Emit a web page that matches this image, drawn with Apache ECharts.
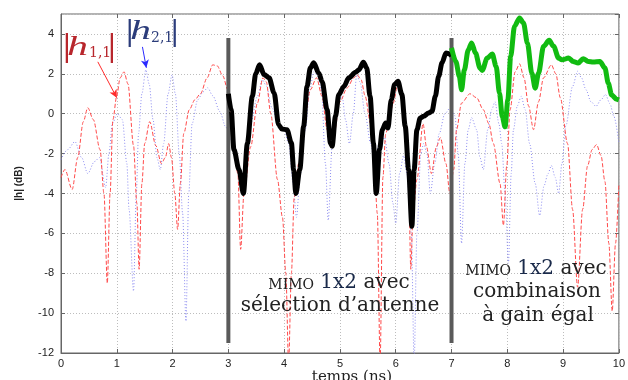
<!DOCTYPE html>
<html>
<head>
<meta charset="utf-8">
<script src="https://cdn.jsdelivr.net/npm/echarts@6/dist/echarts.min.js"></script>
<style>
html,body{margin:0;padding:0;background:#fff;}
#chart{width:628px;height:380px;}
</style>
</head>
<body>
<div id="chart"></div>
<script>
// x ticks / y ticks
const xTicks = [0,1,2,3,4,5,6,7,8,9,10];
const yTicks = [-12,-10,-8,-6,-4,-2,0,2,4];

// |h1,1| (red dashed)
const h11 = [
 [0,-3.2],[0.07,-2.8],[0.2,-3.8],[0.3,-2.2],[0.4,-0.4],[0.48,0.3],[0.58,-0.3],[0.7,-1.8],[0.77,-4],[0.83,-8.5],
 [0.88,-4],[0.93,-0.3],[1.0,0.9],[1.06,1.8],[1.13,2.1],[1.2,1.5],[1.3,-1.6],[1.36,-4.5],[1.4,-7.8],[1.45,-3.5],
 [1.5,-1.5],[1.59,-0.4],[1.7,-1.6],[1.8,-2.5],[1.87,-2.2],[1.93,-1.5],[1.98,-2.2],[2.04,-4],[2.09,-5.8],[2.14,-3.5],
 [2.2,-1],[2.3,0.2],[2.4,0.7],[2.5,1.0],[2.62,1.8],[2.72,2.45],[2.8,2.4],[2.9,1.9],[2.99,1.2],[3.08,-1.3],
 [3.17,-3.0],[3.22,-6.8],[3.28,-4],[3.4,-1.66],[3.52,0.53],[3.62,1.8],[3.68,1.6],[3.76,0],[3.88,-3.3],[3.97,-5.2],
 [4.03,-8],[4.08,-12.5],[4.13,-8],[4.18,-4.2],[4.26,-2.5],[4.38,0],[4.47,1.2],[4.58,1.8],[4.68,0.87],[4.77,-0.8],
 [4.83,-1.6],[4.9,-0.9],[5.0,0.6],[5.13,1.3],[5.25,1.8],[5.31,1.95],[5.38,1.7],[5.45,0.9],[5.55,-0.5],[5.62,-3],
 [5.67,-5],[5.72,-12.5],[5.77,-3.2],[5.82,-1],[5.87,-0.6],[5.95,0.5],[6.04,1.5],[6.12,0.9],[6.18,-0.6],[6.23,-3],
 [6.27,-7.8],[6.31,-5],[6.38,-3.3],[6.49,-0.5],[6.55,-1.65],[6.64,-3.0],[6.73,-1.65],[6.8,-1.2],[6.9,-2.5],[6.97,-4.0],
 [7.04,-2.8],[7.09,-0.8],[7.18,0.53],[7.33,1.0],[7.45,0.8],[7.57,0.2],[7.67,-0.5],[7.75,-1.5],[7.87,-3.5],[7.93,-5.6],
 [7.99,-2.6],[8.05,0.2],[8.14,2.1],[8.22,2.5],[8.3,1.8],[8.38,0.4],[8.47,-0.8],[8.56,0.6],[8.65,1.8],[8.79,2.45],
 [8.87,2.0],[8.95,0.8],[9.08,-1.5],[9.17,-4.8],[9.26,-8.7],[9.35,-4.8],[9.44,-2.6],[9.52,-1.8],[9.6,-1.55],[9.68,-2.1],
 [9.75,-3.4],[9.82,-6.5],[9.88,-9.9],[9.94,-6.5],[10,-3.5]
];

// |h2,1| (blue dotted)
const h21 = [
 [0,-2.3],[0.12,-1.8],[0.25,-1.4],[0.37,-2.2],[0.48,-3.0],[0.6,-2.4],[0.69,-2.2],[0.8,-3.7],[0.86,-2],[0.92,-0.5],
 [1.01,0.0],[1.1,-0.3],[1.18,-2.5],[1.22,-4.8],[1.3,-8.9],[1.35,-4],[1.39,-1],[1.45,1.0],[1.52,2.2],[1.58,1.5],
 [1.65,-0.3],[1.72,-2.2],[1.78,-2.8],[1.84,-1.5],[1.92,1.0],[1.99,1.95],[2.05,1.0],[2.12,-2],[2.18,-5],[2.24,-10.4],
 [2.29,-4],[2.35,-0.5],[2.45,0.7],[2.55,1.1],[2.63,1.3],[2.72,0.9],[2.85,0.1],[2.95,-0.65],[3.05,-1.3],[3.15,-2.4],
 [3.25,-4.0],[3.32,-2.6],[3.4,-0.5],[3.52,0.87],[3.61,1.7],[3.68,1.4],[3.78,0.3],[3.9,-0.6],[4.0,-0.8],[4.08,-1.5],
 [4.16,-3.5],[4.22,-5.2],[4.29,-3],[4.38,-0.8],[4.46,1.2],[4.53,2.1],[4.6,1.9],[4.67,1.2],[4.74,-2.5],[4.79,-5.35],
 [4.86,-1.66],[4.95,0.5],[5.04,0.87],[5.1,-0.3],[5.17,-1.5],[5.24,0],[5.3,1.95],[5.36,1.6],[5.45,0],[5.55,-1.5],
 [5.62,-2.5],[5.7,-1.5],[5.8,-1.2],[5.88,-2.5],[5.95,-4.5],[6.0,-5.5],[6.07,-3],[6.14,-2.1],[6.2,-3],[6.28,-6],
 [6.33,-12.5],[6.38,-6],[6.45,-2],[6.5,-1.5],[6.56,-2],[6.62,-4],[6.7,-2.5],[6.78,-1],[6.88,0],[6.98,0.3],
 [7.06,-0.1],[7.12,-2],[7.18,-6.5],[7.24,-2.5],[7.3,-0.8],[7.36,-0.2],[7.45,-0.8],[7.51,-2.2],[7.57,-2.8],[7.65,-0.8],
 [7.72,0.2],[7.78,0.6],[7.85,-0.5],[7.9,-1.5],[7.96,-4],[8.02,-7.5],[8.07,-3],[8.11,-0.8],[8.18,0.4],[8.25,0.87],
 [8.32,0.2],[8.4,-1.5],[8.5,-3.5],[8.58,-5.1],[8.66,-3.6],[8.73,-3.0],[8.79,-2.6],[8.86,-3.2],[8.92,-4.0],[8.98,-2.5],
 [9.05,-0.6],[9.17,1.37],[9.26,2.13],[9.33,1.8],[9.41,1.2],[9.5,0.6],[9.59,0.37],[9.68,0.7],[9.76,0.96],[9.84,0.5],
 [9.91,-0.13],[10,-1.47]
];

// antenna selection (black, 3..7 ns)
const selection = [
 [3.0,1.0],[3.05,0.2],[3.1,-1.8],[3.19,-2.8],[3.27,-4.0],[3.34,-1.5],[3.43,0.87],[3.49,2.0],[3.56,2.46],[3.64,1.96],
 [3.73,1.8],[3.82,1.04],[3.9,-0.55],[3.96,-0.77],[4.05,-0.8],[4.13,-1.47],[4.17,-2.8],[4.21,-4.0],[4.28,-2.8],[4.35,-0.63],
 [4.41,1.37],[4.47,2.3],[4.53,2.55],[4.62,2.04],[4.68,1.62],[4.77,0.2],[4.83,-1.47],[4.86,-1.63],[4.92,-0.13],[4.98,0.96],
 [5.07,1.37],[5.16,1.8],[5.28,2.08],[5.34,2.2],[5.42,2.58],[5.48,2.3],[5.54,0.87],[5.6,-1.47],[5.65,-4.0],[5.71,-1.8],
 [5.76,-0.8],[5.82,-0.47],[5.86,-0.72],[5.92,0.7],[5.98,1.46],[6.04,1.63],[6.11,0.96],[6.17,-0.63],[6.23,-2.8],[6.29,-5.65],
 [6.33,-2.8],[6.38,-0.8],[6.44,-0.21],[6.5,-0.13],[6.59,0.04],[6.65,0.12],[6.71,0.87],[6.77,1.88],[6.83,2.55],[6.9,3.05],
 [6.96,3.0],[7.0,2.9]
];

// equal gain combining (green, 7..10 ns)
const combining = [
 [7.0,3.3],[7.08,2.6],[7.14,1.87],[7.18,1.2],[7.23,2.2],[7.3,3.2],[7.36,3.55],[7.43,3.04],[7.51,2.29],[7.55,2.17],
 [7.64,2.79],[7.73,2.99],[7.8,2.37],[7.86,1.03],[7.91,-0.15],[7.96,-0.66],[8.01,0.69],[8.06,2.87],[8.13,4.39],[8.22,4.8],
 [8.29,4.55],[8.36,3.55],[8.44,2.03],[8.5,1.28],[8.56,2.03],[8.65,3.38],[8.75,3.68],[8.83,3.38],[8.92,2.79],[8.98,2.7],
 [9.1,2.79],[9.18,2.62],[9.27,2.54],[9.36,2.76],[9.45,2.62],[9.54,2.59],[9.66,2.62],[9.75,2.29],[9.81,1.53],[9.87,0.94],
 [9.96,0.72],[10,0.69]
];

// vertical separators
const dividerX = [3, 7];
const dividerY = [-11.5, 3.8];

// arrows: [from, to]
const arrowH11 = [[0.66, 2.6], [1.0, 0.8]];
const arrowH21 = [[1.46, 3.35], [1.53, 2.3]];

const chart = echarts.init(document.getElementById('chart'), null, {renderer: 'canvas'});
const serif = '"DejaVu Serif", "Liberation Serif", serif';
const lserif = '"Liberation Serif", serif';
const sans = '"Liberation Sans", Arial, sans-serif';

const dividerSeries = dividerX.map(x => ({
  type: 'line', data: [[x, dividerY[0]], [x, dividerY[1]]], showSymbol: false, silent: true,
  lineStyle: {color: '#5a5a5a', width: 4}, z: 4
}));

function arrowSeries(a, color) {
  return {
    type: 'line', data: [], silent: true,
    markLine: {
      silent: true, symbol: ['none', 'arrow'], symbolSize: [6, 8],
      lineStyle: {color: color, width: 1, type: 'solid'}, label: {show: false},
      data: [[{coord: a[0]}, {coord: a[1]}]]
    }
  };
}

function txt(x, y, text, font, fill, align, valign, rich, scaleX) {
  const style = {text: text, font: font, fill: fill,
    textAlign: align, align: align, textVerticalAlign: valign, verticalAlign: valign};
  if (rich) style.rich = rich;
  const el = {type: 'text', x: x, y: y, z: 100, style: style};
  if (scaleX) el.scaleX = scaleX;
  return el;
}

const mimoRich = {
  sc: {fontSize: 14, fontFamily: serif, fill: '#222', color: '#222', verticalAlign: 'bottom', padding: [0, 0, 1, 0]},
  b: {fontSize: 20, fontFamily: serif, fill: '#1a2a4a', color: '#1a2a4a', verticalAlign: 'bottom'},
  t: {fontSize: 20, fontFamily: serif, fill: '#222', color: '#222', verticalAlign: 'bottom'}
};

const redLbl = '#b8262c', blueLbl = '#2b3c7a';

const option = {
  animation: false,
  grid: {left: 61, right: 6, top: 14, bottom: 27, show: true, borderColor: '#666', borderWidth: 1},
  xAxis: [{
    type: 'value', min: xTicks[0], max: xTicks[xTicks.length - 1], interval: 1,
    axisLine: {show: true, onZero: false, lineStyle: {color: '#666'}},
    axisTick: {show: true, inside: true, length: 4, lineStyle: {color: '#666'}},
    axisLabel: {color: '#222', fontFamily: sans, fontSize: 11, margin: 5},
    splitLine: {show: true, lineStyle: {color: '#bdbdbd', type: [1, 2], width: 1}}
  }, {
    type: 'value', position: 'top', min: xTicks[0], max: xTicks[xTicks.length - 1], interval: 1,
    axisLine: {show: false, onZero: false}, axisTick: {show: true, inside: true, length: 4, lineStyle: {color: '#666'}},
    axisLabel: {show: false}, splitLine: {show: false}
  }],
  yAxis: [{
    type: 'value', min: yTicks[0], max: 5, interval: 2,
    name: '|h| (dB)', nameLocation: 'middle', nameGap: 37,
    nameTextStyle: {color: '#222', fontFamily: sans, fontSize: 10, fontWeight: 'bold'},
    axisLine: {show: true, onZero: false, lineStyle: {color: '#666'}},
    axisTick: {show: true, inside: true, length: 4, lineStyle: {color: '#666'}},
    axisLabel: {color: '#222', fontFamily: sans, fontSize: 11, margin: 7, showMaxLabel: false},
    splitLine: {show: true, lineStyle: {color: '#bdbdbd', type: [1, 2], width: 1}}
  }, {
    type: 'value', position: 'right', min: yTicks[0], max: 5, interval: 2,
    axisLine: {show: false, onZero: false}, axisTick: {show: true, inside: true, length: 4, lineStyle: {color: '#666'}},
    axisLabel: {show: false}, splitLine: {show: false}
  }],
  series: [
    {type: 'line', data: h21, showSymbol: false, smooth: 0.3, smoothMonotone: 'x', z: 2,
     lineStyle: {color: '#8c8cf0', width: 1, type: [1, 2]}},
    {type: 'line', data: h11, showSymbol: false, smooth: 0.3, smoothMonotone: 'x', z: 3,
     lineStyle: {color: '#ff4a4a', width: 1, type: [4, 2]}},
    {type: 'line', data: selection, showSymbol: false, smooth: 0.3, smoothMonotone: 'x', z: 5,
     lineStyle: {color: '#000', width: 5}},
    {type: 'line', data: combining, showSymbol: false, smooth: 0.3, smoothMonotone: 'x', z: 5,
     lineStyle: {color: '#11bb11', width: 5}},
    ...dividerSeries,
    arrowSeries(arrowH11, '#ff2a2a'),
    arrowSeries(arrowH21, '#2a2aff')
  ],
  graphic: [
    // |h1,1|
    txt(62, 34, '|', '29px ' + serif, redLbl, 'left', 'top'),
    txt(67, 34, 'h', 'italic 28px ' + lserif, redLbl, 'left', 'top', null, 1.5),
    txt(89, 46, '1,1', '14px ' + serif, redLbl, 'left', 'top'),
    txt(107, 34, '|', '29px ' + serif, redLbl, 'left', 'top'),
    // |h2,1|
    txt(125, 19, '|', '28px ' + serif, blueLbl, 'left', 'top'),
    txt(130, 18, 'h', 'italic 28px ' + lserif, blueLbl, 'left', 'top', null, 1.5),
    txt(151, 31, '2,1', '14px ' + serif, blueLbl, 'left', 'top'),
    txt(170, 19, '|', '28px ' + serif, blueLbl, 'left', 'top'),
    // annotation 1
    txt(339, 293, '{sc|MIMO}{t| }{b|1x2}{t| avec}', '20px ' + serif, '#222', 'center', 'bottom', mimoRich),
    txt(340, 316, 's\u00e9lection d\u2019antenne', '20px ' + serif, '#222', 'center', 'bottom'),
    // annotation 2
    txt(536, 279, '{sc|MIMO}{t| }{b|1x2}{t| avec}', '20px ' + serif, '#222', 'center', 'bottom', mimoRich),
    txt(537, 302, 'combinaison', '20px ' + serif, '#222', 'center', 'bottom'),
    txt(538, 326, '\u00e0 gain \u00e9gal', '20px ' + serif, '#222', 'center', 'bottom'),
    // x axis title
    txt(352, 370, 'temps (ns)', '15px ' + serif, '#222', 'center', 'top')
  ]
};
chart.setOption(option);
</script>
</body>
</html>
